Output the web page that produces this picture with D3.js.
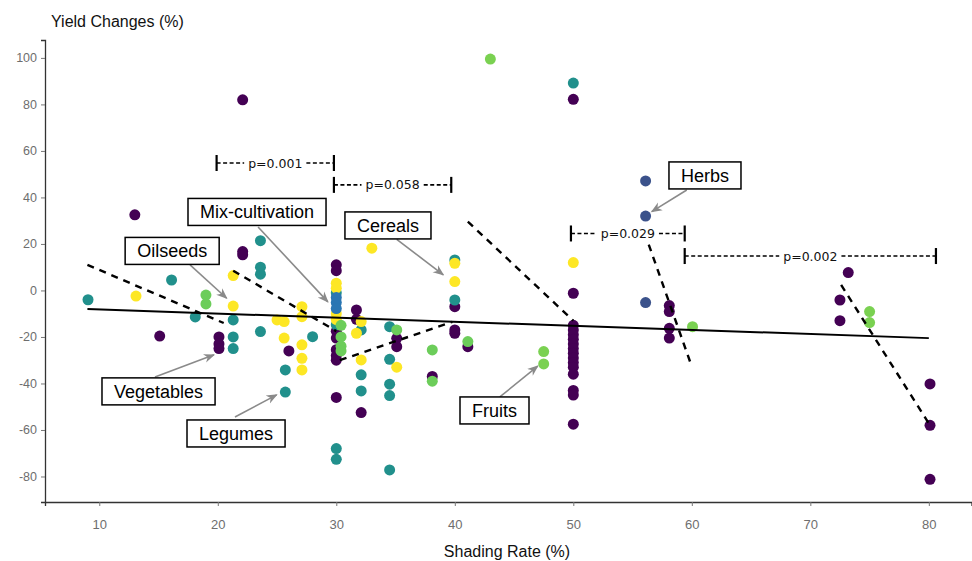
<!DOCTYPE html>
<html><head><meta charset="utf-8">
<script src="https://cdn.jsdelivr.net/npm/d3@7"></script>
<style>body{margin:0;background:#fff}</style>
</head><body><svg id="c" width="972" height="561"></svg>
<script>
// ---- data ----
const xTicks = [10, 20, 30, 40, 50, 60, 70, 80];
const yTicks = [-80, -60, -40, -20, 0, 20, 40, 60, 80, 100];
const xTitle = "Shading Rate (%)";
const yTitle = "Yield Changes (%)";

const vegetables = [[13,32.5],[15.1,-19.6],[20.1,-20],[20.1,-23],[20.1,-25],[22.1,82],[22.1,16.7],[22.1,15.3],
  [26,-26],[30,11],[30,8.5],[30,-17.5],[30,-20.5],[30,-25.5],[30,-28],[30,-30],[30,-46],[31.7,-8.4],[31.7,-12.4],
  [32.1,-52.5],[35.1,-20.6],[35.1,-24.2],[38.1,-37],[40,-7],[40,-17],[40,-18.4],[41.1,-24.2],[50,82.2],[50,-1.2],
  [50,-15],[50,-17],[50,-19],[50,-21],[50,-23],[50,-25],[50,-27],[50,-29],[50,-31],[50,-33],[50,-36],[50,-43],
  [50,-45],[50,-57.5],[58.1,-6.5],[58.1,-9.1],[58.1,-16.3],[58.1,-20.5],[72.5,-4.1],[72.5,-13],[73.2,7.7],
  [80.1,-40.2],[80.1,-58],[80.1,-81.2]];
const legumes = [[9.05,-4],[16.1,4.5],[18.1,-11.4],[21.3,-12.7],[21.3,-20],[21.3,-25],[23.6,21.4],[23.6,10],[23.6,7],
  [23.6,-17.7],[25.7,-34.2],[25.7,-43.7],[28,-19.9],[30,-1],[30,-14.8],[30,-68],[30,-72.6],[32.1,-17],[32.1,-36.3],
  [32.1,-43.2],[34.5,-15.6],[34.5,-29.6],[34.5,-40.3],[34.5,-45.2],[34.5,-77.2],[40,13.1],[40,-4.1],[50,89.2]];
const cereals = [[13.1,-2.4],[21.3,-6.7],[21.3,6.4],[25,-12.7],[25.6,-13.4],[25.6,-20.5],[27.1,-7],[27.1,-11.3],
  [27.1,-23.4],[27.1,-29.2],[27.1,-34.2],[30,3.1],[30,1],[30,-10],[30,-12.5],[32.1,-13.4],[31.7,-18.4],[32.1,-29.9],
  [33,18.2],[35.1,-33],[40,11.7],[40,3.8],[50,12]];
const mixCultivation = [[30,-3],[30,-5.2],[30,-7.8]];
const herbs = [[56.1,47.1],[56.1,32],[56.1,-5.2]];
const oilseeds = [[19,-2],[19,-5.8],[30.4,-15],[30.4,-20],[30.4,-24],[30.4,-26],[35.1,-17],[38.1,-25.6],[38.1,-39],[41.1,-22]];
const fruits = [[43,99.5],[47.5,-26.3],[47.5,-31.6],[60.06,-15.6],[75,-9.1],[75,-13.8]];

const seriesNames = ["Vegetables","Legumes","Cereals","Mix-cultivation","Herbs","Oilseeds","Fruits"];
const seriesData = [vegetables, legumes, cereals, mixCultivation, herbs, oilseeds, fruits];
const seriesColors = ["#440154","#21908c","#fde725","#2a76b3","#3b528b","#6ccd5a","#7ad151"];

// overall regression
const trendX = [9, 80];
const trendY = [-8, -20.5];
// group regressions (dashed)
const dashedSegments = [
  [[9, 11], [20.5, -14]],
  [[21.3, 8.5], [30, -17.5]],
  [[30.3, -30], [39.8, -13.5]],
  [[41.1, 29.6], [50, -13]],
  [[56.0, 25], [59.85, -30.6]],
  [[72.6, 2.4], [80.1, -58]]
];
// p-value brackets
const pX1 = [19.9, 29.8, 49.8, 59.4];
const pX2 = [29.8, 39.7, 59.4, 80.6];
const pY = [54.8, 45.4, 24.5, 14.8];
const pLabels = ["p=0.001","p=0.058","p=0.029","p=0.002"];
// category labels: center and arrow
const labelNames = ["Mix-cultivation","Oilseeds","Cereals","Herbs","Vegetables","Legumes","Fruits"];
const labelCX = [23.31, 16.15, 34.36, 61.11, 15.0, 21.54, 43.35];
const labelCY = [33.76, 17.0, 27.96, 49.46, -43.4, -61.5, -51.6];
const arrowFrom = [[23.4,27.3],[17.66,11.0],[35.1,22.0],[59.57,43.2],[14.7,-37.2],[21.45,-54.4],[43.8,-45.8]];
const arrowTo = [[29.29,-4.9],[20.75,-3.35],[39.03,6.7],[56.62,33.9],[19.68,-27.7],[24.97,-44.9],[47.0,-32.5]];

// ---- chart ----
const svg = d3.select("#c");
const x = d3.scaleLinear().domain([5.42, 83.6]).range([45, 971.5]);
const y = d3.scaleLinear().domain([-90.97, 107.7]).range([502, 40]);

const fmt = d => String(d);
const gx = svg.append("g").attr("transform", "translate(0,502)")
  .call(d3.axisBottom(x).tickValues(xTicks).tickSize(4).tickPadding(14).tickFormat(fmt));
gx.select(".domain").attr("stroke", "#333").attr("stroke-width", 1.3);
gx.selectAll(".tick line").attr("stroke", "#777");
gx.selectAll(".tick text").attr("fill", "#6e6e6e").style("font-family", "'Liberation Sans Narrow','Liberation Sans',Arial,sans-serif").style("font-size", "13px");

const gy = svg.append("g").attr("transform", "translate(45,0)")
  .call(d3.axisLeft(y).tickValues(yTicks).tickSize(4).tickPadding(4).tickFormat(fmt));
gy.select(".domain").attr("stroke", "#333").attr("stroke-width", 1.3);
gy.selectAll(".tick line").attr("stroke", "#777");
gy.selectAll(".tick text").attr("fill", "#6e6e6e").style("font-family", "'Liberation Sans',Arial,sans-serif").style("font-size", "12.5px");

svg.append("text").attr("x", 51).attr("y", 27).text(yTitle)
  .style("font-family", "'Liberation Sans',Arial,sans-serif").style("font-size", "16px").attr("fill", "#111");
svg.append("text").attr("x", 507).attr("y", 557).attr("text-anchor", "middle").text(xTitle)
  .style("font-family", "'Liberation Sans',Arial,sans-serif").style("font-size", "16px").attr("fill", "#111");

// points
seriesData.forEach((arr, i) => {
  svg.append("g").selectAll("circle").data(arr).join("circle")
    .attr("cx", d => x(d[0])).attr("cy", d => y(d[1])).attr("r", 5.5)
    .attr("fill", seriesColors[i]);
});

// overall trend
svg.append("line").attr("x1", x(trendX[0])).attr("y1", y(trendY[0]))
  .attr("x2", x(trendX[1])).attr("y2", y(trendY[1]))
  .attr("stroke", "#000").attr("stroke-width", 2);

// dashed group lines
svg.append("g").selectAll("line").data(dashedSegments).join("line")
  .attr("x1", d => x(d[0][0])).attr("y1", d => y(d[0][1]))
  .attr("x2", d => x(d[1][0])).attr("y2", d => y(d[1][1]))
  .attr("stroke", "#000").attr("stroke-width", 2.4).attr("stroke-dasharray", "7,6");

// p brackets
pLabels.forEach((lab, i) => {
  const g = svg.append("g");
  const x1 = x(pX1[i]), x2 = x(pX2[i]), yy = y(pY[i]);
  const t = g.append("text").attr("x", (x1 + x2) / 2).attr("y", yy + 4.5).attr("text-anchor", "middle")
    .text(lab).style("font-family", "'DejaVu Sans',Verdana,sans-serif").style("font-size", "12.5px").attr("fill", "#111");
  const bb = t.node().getBBox();
  g.insert("rect", "text").attr("x", bb.x - 2).attr("y", bb.y).attr("width", bb.width + 4).attr("height", bb.height).attr("fill", "#fff");
  g.append("line").attr("x1", x1).attr("x2", bb.x - 4).attr("y1", yy).attr("y2", yy)
    .attr("stroke", "#000").attr("stroke-width", 1.6).attr("stroke-dasharray", "4,2.5");
  g.append("line").attr("x1", bb.x + bb.width + 4).attr("x2", x2).attr("y1", yy).attr("y2", yy)
    .attr("stroke", "#000").attr("stroke-width", 1.6).attr("stroke-dasharray", "4,2.5");
  [x1, x2].forEach(xx => g.append("line").attr("x1", xx).attr("x2", xx).attr("y1", yy - 8).attr("y2", yy + 8)
    .attr("stroke", "#000").attr("stroke-width", 2.2));
});

// arrow marker
svg.append("defs").append("marker").attr("id", "ah").attr("viewBox", "0 0 10 10")
  .attr("refX", 9).attr("refY", 5).attr("markerWidth", 7).attr("markerHeight", 7).attr("orient", "auto")
  .append("path").attr("d", "M0,1 L10,5 L0,9 L3,5 Z").attr("fill", "#8a8a8a");

// category labels
labelNames.forEach((lab, i) => {
  svg.append("line").attr("x1", x(arrowFrom[i][0])).attr("y1", y(arrowFrom[i][1]))
    .attr("x2", x(arrowTo[i][0])).attr("y2", y(arrowTo[i][1]))
    .attr("stroke", "#8a8a8a").attr("stroke-width", 1.6).attr("marker-end", "url(#ah)");
});
labelNames.forEach((lab, i) => {
  const g = svg.append("g");
  const cx = x(labelCX[i]), cy = y(labelCY[i]);
  const rect = g.append("rect");
  const t = g.append("text").attr("x", cx).attr("y", cy + 6.3).attr("text-anchor", "middle").text(lab)
    .style("font-family", "'Liberation Sans',Arial,sans-serif").style("font-size", "18px").attr("fill", "#000");
  const bb = t.node().getBBox();
  const w = bb.width + 24, h = 27;
  rect.attr("x", cx - w / 2).attr("y", cy - h / 2).attr("width", w).attr("height", h)
    .attr("fill", "#fff").attr("stroke", "#000").attr("stroke-width", 1.5);
});
</script></body></html>
